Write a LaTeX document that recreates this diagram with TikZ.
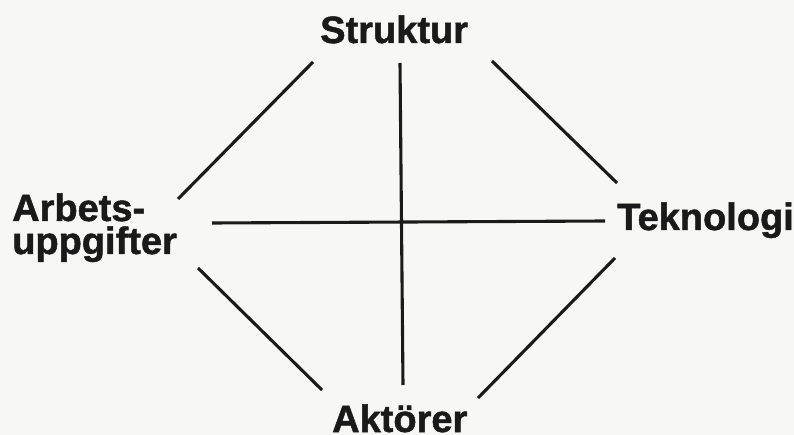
\documentclass[tikz,border=0pt]{standalone}
\usepackage{fontspec}
\setmainfont{Liberation Sans}
\newfontfamily\lblfont{Liberation Sans Bold}[FakeBold=1.3]
\definecolor{ink}{HTML}{1A1A1A}
\definecolor{paper}{HTML}{F7F7F5}
\begin{document}
\begin{tikzpicture}[x=1pt,y=-1pt,
  lbl/.style={font=\lblfont\fontsize{38}{33}\selectfont, text=ink, inner sep=0pt},
  link/.style={draw=ink, line width=3.1pt}]
\fill[paper] (0,0) rectangle (794,435);
\useasboundingbox (0,0) rectangle (794,435);
\node[lbl, anchor=base west] (S) at (320,43) {Struktur};
\node[lbl, anchor=base west] (T) at (617,230) {Teknologi};
\node[lbl, anchor=base west] (K) at (332,432) {Aktörer};
\node[lbl, anchor=base west, align=left] (A) at (12,254) {Arbets-\\uppgifter};
\coordinate (s1) at (313,62);
\coordinate (a1) at (178,199);
\coordinate (s2) at (492,61);
\coordinate (t1) at (617,183);
\coordinate (a2) at (198,268);
\coordinate (k1) at (322,390);
\coordinate (t2) at (615,258);
\coordinate (k2) at (478,398);
\coordinate (sv) at (400,63);
\coordinate (kv) at (403,385);
\coordinate (ah) at (212,223);
\coordinate (th) at (605,221);
\draw[link] (s1) -- (a1);
\draw[link] (s2) -- (t1);
\draw[link] (a2) -- (k1);
\draw[link] (t2) -- (k2);
\draw[link] (sv) -- (kv);
\draw[link] (ah) -- (th);
\end{tikzpicture}
\end{document}
